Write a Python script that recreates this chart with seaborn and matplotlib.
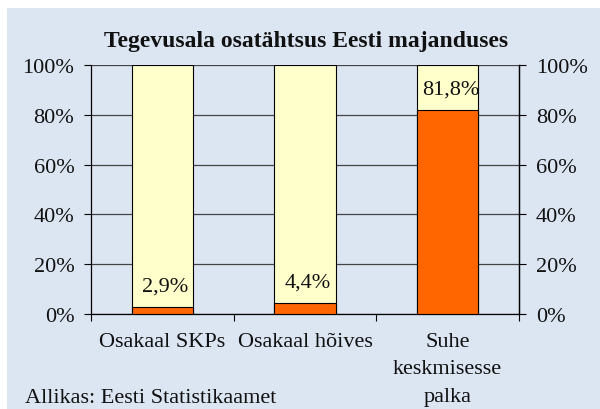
import matplotlib
matplotlib.use("Agg")
import matplotlib.pyplot as plt
import seaborn as sns
import pandas as pd
from matplotlib.patches import Rectangle
from matplotlib.ticker import FixedLocator

categories = ["Osakaal SKPs", "Osakaal hõives", "Suhe\nkeskmisesse\npalka"]
values = [2.9, 4.4, 81.8]
value_labels = ["2,9%", "4,4%", "81,8%"]
totals = [100, 100, 100]
ytick_labels = ["0%", "20%", "40%", "60%", "80%", "100%"]
title = "Tegevusala osatähtsus Eesti majanduses"
source = "Allikas: Eesti Statistikaamet"

sns.set_style("white")
plt.rcParams["font.family"] = ["Liberation Serif", "DejaVu Serif"]

BG = "#dce6f2"
YELLOW = "#ffffcc"
ORANGE = "#ff6600"
FS = 16

df = pd.DataFrame({"cat": categories, "val": values, "tot": totals})

fig = plt.figure(figsize=(6, 4.1), dpi=100, facecolor="white")
fig.patches.append(Rectangle((7 / 600, 0), 1, 1 - 9 / 410, transform=fig.transFigure,
                             facecolor=BG, edgecolor="none", zorder=-10))
ax = fig.add_axes([91 / 600, 1 - 315 / 410, (519 - 91) / 600, (315 - 66) / 410])
ax.set_facecolor("none")

sns.barplot(data=df, x="cat", y="tot", color=YELLOW, width=0.43, ax=ax,
            edgecolor="black", linewidth=0.8, saturation=1, zorder=3)
sns.barplot(data=df, x="cat", y="val", color=ORANGE, width=0.43, ax=ax,
            edgecolor="black", linewidth=0.8, saturation=1, zorder=4)

ax.set_xlim(-0.5, 2.5)
ax.set_ylim(0, 100)
ax.set_xlabel("")
ax.set_ylabel("")

for i, (v, lab) in enumerate(zip(values, value_labels)):
    ax.annotate(lab, xy=(i, v), xytext=(2, 12), textcoords="offset points",
                ha="center", va="baseline", fontsize=FS, color="#111111", zorder=6)

yt = [0, 20, 40, 60, 80, 100]
ax.set_yticks(yt)
ax.set_yticklabels(ytick_labels, fontsize=FS)
ax.yaxis.grid(True, color="#444444", linewidth=0.9, zorder=1)
ax.set_axisbelow(True)
ax.tick_params(axis="y", direction="out", length=5, width=0.8, pad=7, color="black",
               labelcolor="#111111", left=True)

ax.set_xticks(range(len(categories)))
ax.set_xticklabels(categories, fontsize=FS, linespacing=1.6, color="#111111")
ax.xaxis.set_minor_locator(FixedLocator([-0.5, 0.5, 1.5, 2.5]))
ax.tick_params(axis="x", which="major", length=0, pad=13)
ax.tick_params(axis="x", which="minor", direction="out", length=5, width=0.8,
               color="black", bottom=True)

for s in ["left", "right", "bottom"]:
    ax.spines[s].set_visible(True)
    ax.spines[s].set_color("black")
    ax.spines[s].set_linewidth(0.9)
ax.spines["top"].set_visible(False)

ax2 = ax.twinx()
ax2.set_ylim(0, 100)
ax2.set_yticks(yt)
ax2.set_yticklabels(ytick_labels, fontsize=FS, color="#111111")
ax2.tick_params(axis="y", direction="out", length=5, width=0.8, pad=7, color="black", right=True)
for s in ["left", "top", "bottom"]:
    ax2.spines[s].set_visible(False)
ax2.spines["right"].set_visible(True)
ax2.spines["right"].set_color("black")
ax2.spines["right"].set_linewidth(0.9)

fig.text(306 / 600, 1 - 42 / 410, title, ha="center", va="center", fontsize=17,
         fontweight="bold", color="#111111")
fig.text(25 / 600, 1 - 399 / 410, source, ha="left", va="center", fontsize=FS, color="#111111")

fig.savefig("out.png", dpi=100, facecolor=fig.get_facecolor())
